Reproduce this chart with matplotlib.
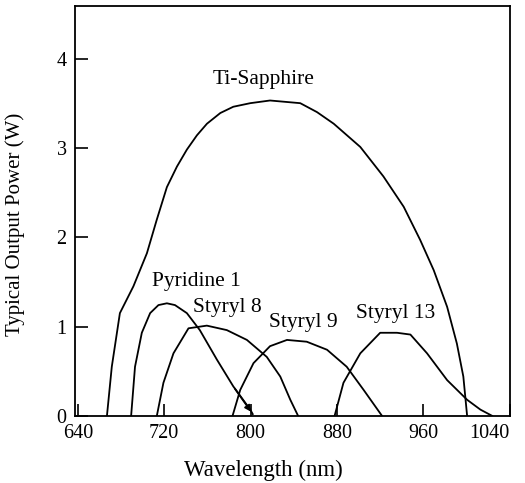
import matplotlib.pyplot as plt

plt.rcParams["font.family"] = ["Liberation Serif", "DejaVu Serif"]

# wavelength (nm) / typical output power (W)
ti_wl = [667, 671.5, 679, 691.5, 704, 713, 722.5, 731.8, 741, 750.3, 759.6, 772,
         784, 799.7, 818, 846, 861.5, 877, 901.6, 923, 941.8, 957, 969.6, 982,
         991, 997, 1000.5]
ti_pw = [0, 0.55, 1.15, 1.45, 1.82, 2.19, 2.56, 2.79, 2.98, 3.14, 3.27, 3.39,
         3.46, 3.50, 3.53, 3.50, 3.40, 3.27, 3.01, 2.68, 2.34, 1.97, 1.63, 1.22,
         0.81, 0.44, 0]

pyr_wl = [689.4, 693, 699.3, 707, 714.7, 722.5, 730, 741, 753, 768.8, 784, 799.7, 802]
pyr_pw = [0, 0.55, 0.93, 1.15, 1.24, 1.26, 1.24, 1.15, 0.96, 0.63, 0.33, 0.07, 0.02]

st8_wl = [713.2, 719.3, 728.6, 742.5, 759.5, 778, 796.6, 815, 827.5, 836.8, 844]
st8_pw = [0, 0.37, 0.70, 0.98, 1.01, 0.96, 0.85, 0.66, 0.44, 0.18, 0]

st9_wl = [783.3, 790.4, 802.7, 818, 833.7, 852, 870.8, 889, 904.7, 921.7]
st9_pw = [0, 0.29, 0.59, 0.78, 0.85, 0.83, 0.74, 0.55, 0.29, 0]

st13_wl = [877.8, 886, 901.6, 920, 935.6, 948, 963.4, 982, 1000.5, 1012.8, 1023.7]
st13_pw = [0, 0.37, 0.70, 0.93, 0.93, 0.91, 0.70, 0.40, 0.18, 0.07, 0]

x_ticks = [640, 720, 800, 880, 960, 1040]
y_ticks = [0, 1, 2, 3, 4]

fig = plt.figure(figsize=(5.25, 4.83), dpi=100)
ax = fig.add_axes([0.143, 0.139, 0.828, 0.849])

lw = 1.3
for wl, pw in [(ti_wl, ti_pw), (pyr_wl, pyr_pw), (st8_wl, st8_pw),
               (st9_wl, st9_pw), (st13_wl, st13_pw)]:
    ax.plot(wl, pw, color="black", lw=lw)

# arrow head at the end of Pyridine 1
ax.annotate("", xy=(pyr_wl[-1], pyr_pw[-1]), xytext=(pyr_wl[-3], pyr_pw[-3]),
            arrowprops=dict(arrowstyle="-|>", color="black", lw=lw,
                            mutation_scale=9))

fs = 15.5
ax.text(812, 3.76, "Ti-Sapphire", fontsize=fs, ha="center", va="center")
ax.text(709, 1.50, "Pyridine 1", fontsize=fs, ha="left", va="center")
ax.text(747, 1.21, "Styryl 8", fontsize=fs, ha="left", va="center")
ax.text(817, 1.04, "Styryl 9", fontsize=fs, ha="left", va="center")
ax.text(898, 1.15, "Styryl 13", fontsize=fs, ha="left", va="center")

ax.set_xlim(637.5, 1040)
ax.set_ylim(0, 4.59)
ax.set_xticks(x_ticks)
ax.set_yticks(y_ticks)
ax.tick_params(direction="in", length=9, width=1.2, labelsize=14.5, pad=6)
ax.get_xticklabels()[-1].set_ha("right")
for s in ax.spines.values():
    s.set_linewidth(1.3)

ax.set_xlabel("Wavelength (nm)", fontsize=16.5, va="center", ha="center")
ax.set_ylabel("Typical Output Power (W)", fontsize=15, va="center", ha="center")
ax.xaxis.set_label_coords(0.434, -0.132)
ax.yaxis.set_label_coords(-0.138, 0.468)

fig.savefig("out.png", dpi=100)
